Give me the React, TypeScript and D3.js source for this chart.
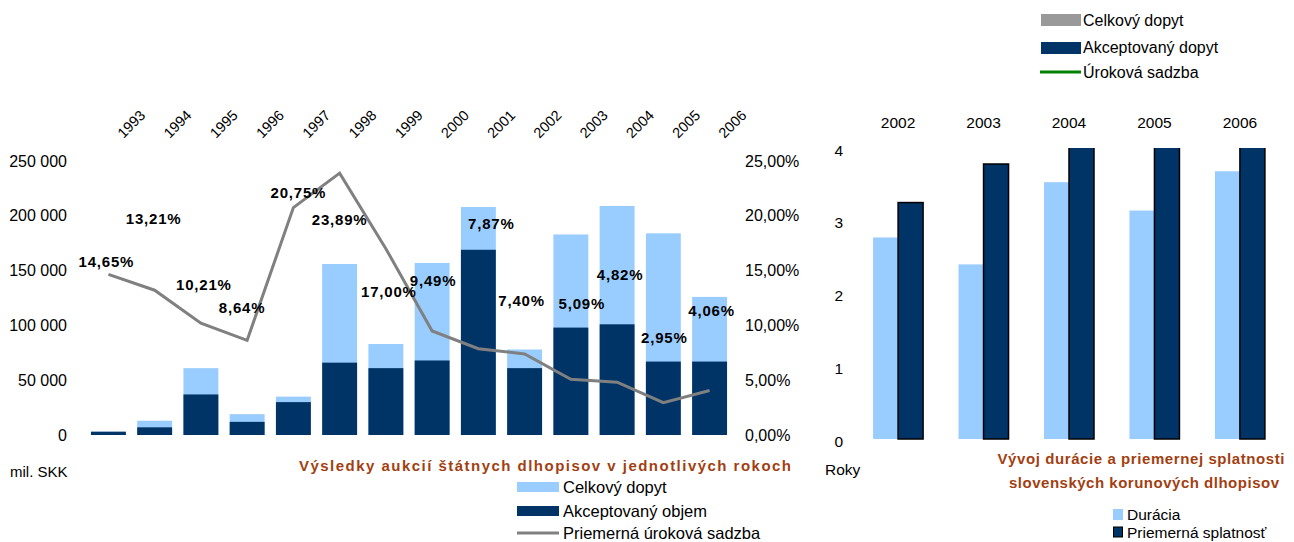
import React from 'react';
import * as d3 from 'd3';

// left chart: bond auction results per year (mil. SKK)
const years = ['1993', '1994', '1995', '1996', '1997', '1998', '1999', '2000', '2001', '2002', '2003', '2004', '2005', '2006'];
const totalDemand = [3000, 13000, 61000, 19000, 35000, 156000, 83000, 157000, 208000, 78000, 183000, 209000, 184000, 126000];
const acceptedVolume = [3000, 7000, 37000, 12000, 30000, 66000, 61000, 68000, 169000, 61000, 98000, 101000, 67000, 67000];
const avgRate = [14.65, 13.21, 10.21, 8.64, 20.75, 23.89, 17.0, 9.49, 7.87, 7.4, 5.09, 4.82, 2.95, 4.06];
const volumeTicks = [0, 50000, 100000, 150000, 200000, 250000];
const rateTicks = [0, 5, 10, 15, 20, 25];

// right chart: duration and average maturity (years)
const durYears = ['2002', '2003', '2004', '2005', '2006'];
const duration = [2.77, 2.4, 3.53, 3.14, 3.68];
const maturity = [3.25, 3.78, 4.5, 4.6, 4.9];
const durTicks = [0, 1, 2, 3, 4];

// where the rate labels sit relative to their point (px)
const labelNudge = [
    [-2, -13], [-1, -72], [3, -39], [-5, -33], [5, -15], [0, 46], [3, 43],
    [1, -50], [13, -125], [-3, -53], [11, -76], [3, -108], [1, -65], [2, -80]
];

const font = '"Liberation Sans", Arial, sans-serif';
const lightBlue = '#99CCFF';
const navy = '#003366';
const brown = '#A23F12';

const fmtVolume = (v: number) => d3.format(',')(v).replace(/,/g, ' ');
const fmtPct = (v: number) => v.toFixed(2).replace('.', ',') + '%';

const App = () => {
    const width = 1294;
    const height = 542;

    // left chart scales
    const x = d3.scaleBand().domain(years).range([85.4, 732.6]).paddingInner(0.245).paddingOuter(0.12);
    const y = d3.scaleLinear().domain([0, 250000]).range([435, 161]);
    const yRate = d3.scaleLinear().domain([0, 25]).range([435, 161]);
    const cx = (i: number) => (x(years[i]) as number) + x.bandwidth() / 2;

    const line = d3.line<number>()
        .x((_, i) => cx(i))
        .y(d => yRate(d));

    // right chart scales
    const x2 = d3.scaleBand().domain(durYears).range([856, 1282]).paddingInner(0.415).paddingOuter(0.2);
    const y2 = d3.scaleLinear().domain([0, 4]).range([439, 148]);
    const half = x2.bandwidth() / 2;

    return (
        <svg width={width} height={height} viewBox={`0 0 ${width} ${height}`}
            style={{ position: 'absolute', left: 0, top: 0, background: '#fff' }} fontFamily={font}>
            <defs>
                <clipPath id="durClip">
                    <rect x={840} y={y2(4)} width={450} height={y2(0) - y2(4) + 2} />
                </clipPath>
            </defs>

            {/* ---------- left chart ---------- */}
            {years.map((yr, i) => (
                <g key={`bar-${yr}`}>
                    <rect x={x(yr)} y={y(totalDemand[i])} width={x.bandwidth()}
                        height={y(0) - y(totalDemand[i])} fill={lightBlue} />
                    <rect x={x(yr)} y={y(acceptedVolume[i])} width={x.bandwidth()}
                        height={y(0) - y(acceptedVolume[i])} fill={navy} />
                </g>
            ))}

            <path d={line(avgRate) || ''} fill="none" stroke="#808080" strokeWidth={3} />

            {avgRate.map((r, i) => (
                <text key={`lbl-${i}`} x={cx(i) + labelNudge[i][0]} y={yRate(r) + labelNudge[i][1]}
                    textAnchor="middle" dominantBaseline="central"
                    fontWeight="bold" fontSize={15} letterSpacing={0.8} fill="#000">
                    {fmtPct(r)}
                </text>
            ))}

            {volumeTicks.map(t => (
                <text key={`vt-${t}`} x={67} y={y(t)} textAnchor="end" dominantBaseline="central"
                    fontSize={16} fill="#000">{fmtVolume(t)}</text>
            ))}
            {rateTicks.map(t => (
                <text key={`rt-${t}`} x={745} y={yRate(t)} textAnchor="start" dominantBaseline="central"
                    fontSize={16} fill="#000">{fmtPct(t)}</text>
            ))}

            {years.map((yr, i) => (
                <text key={`yr-${yr}`} transform={`translate(${cx(i) + 15},139) rotate(-45)`}
                    fontSize={14.5} fill="#000">{yr}</text>
            ))}

            <text x={10} y={477} fontSize={15} fill="#000">mil. SKK</text>
            <text x={299} y={471} fontSize={15} fontWeight="bold" fill={brown}
                textLength={492} lengthAdjust="spacing">
                Výsledky aukcií štátnych dlhopisov v jednotlivých rokoch
            </text>

            <rect x={517} y={482} width={42} height={10} fill={lightBlue} />
            <text x={563} y={487} dominantBaseline="central" fontSize={16.5} fill="#000">Celkový dopyt</text>
            <rect x={517} y={506} width={42} height={10} fill={navy} />
            <text x={563} y={511} dominantBaseline="central" fontSize={16.5} fill="#000">Akceptovaný objem</text>
            <line x1={517} x2={559} y1={533} y2={533} stroke="#808080" strokeWidth={3} />
            <text x={563} y={533} dominantBaseline="central" fontSize={16.5} fill="#000">Priemerná úroková sadzba</text>

            {/* ---------- right chart ---------- */}
            <rect x={1041} y={14} width={40} height={12} fill="#999999" />
            <text x={1083} y={20} dominantBaseline="central" fontSize={16} fill="#000">Celkový dopyt</text>
            <rect x={1041} y={42} width={40} height={12} fill={navy} />
            <text x={1083} y={47} dominantBaseline="central" fontSize={16} fill="#000">Akceptovaný dopyt</text>
            <line x1={1040} x2={1081} y1={72} y2={72} stroke="#008000" strokeWidth={3} />
            <text x={1083} y={72} dominantBaseline="central" fontSize={16} fill="#000">Úroková sadzba</text>

            <g clipPath="url(#durClip)">
                {durYears.map((yr, i) => (
                    <g key={`dur-${yr}`}>
                        <rect x={x2(yr)} y={y2(duration[i])} width={half}
                            height={y2(0) - y2(duration[i])} fill={lightBlue} />
                        <rect x={(x2(yr) as number) + half} y={y2(maturity[i])} width={half}
                            height={y2(0) - y2(maturity[i])} fill={navy} stroke="#000" strokeWidth={1.5} />
                    </g>
                ))}
            </g>

            {durYears.map(yr => (
                <text key={`dy-${yr}`} x={(x2(yr) as number) + half} y={122} textAnchor="middle"
                    dominantBaseline="central" fontSize={15.5} fill="#000">{yr}</text>
            ))}
            {durTicks.map(t => (
                <text key={`dt-${t}`} x={843} y={y2(t) + 2} textAnchor="end" dominantBaseline="central"
                    fontSize={15.5} fill="#000">{t}</text>
            ))}
            <text x={825} y={469} dominantBaseline="central" fontSize={15.5} fill="#000">Roky</text>

            <text x={1141} y={458} textAnchor="middle" dominantBaseline="central" fontSize={15}
                fontWeight="bold" fill={brown} textLength={287} lengthAdjust="spacing">
                Vývoj durácie a priemernej splatnosti
            </text>
            <text x={1144} y={482} textAnchor="middle" dominantBaseline="central" fontSize={15}
                fontWeight="bold" fill={brown} textLength={270} lengthAdjust="spacing">
                slovenských korunových dlhopisov
            </text>

            <rect x={1113} y={509} width={10} height={11} fill={lightBlue} />
            <text x={1127} y={514} dominantBaseline="central" fontSize={15.5} fill="#000">Durácia</text>
            <rect x={1113.5} y={527} width={9} height={10} fill={navy} stroke="#000" strokeWidth={1} />
            <text x={1127} y={532} dominantBaseline="central" fontSize={15.5} fill="#000">Priemerná splatnosť</text>
        </svg>
    );
};

export default App;
